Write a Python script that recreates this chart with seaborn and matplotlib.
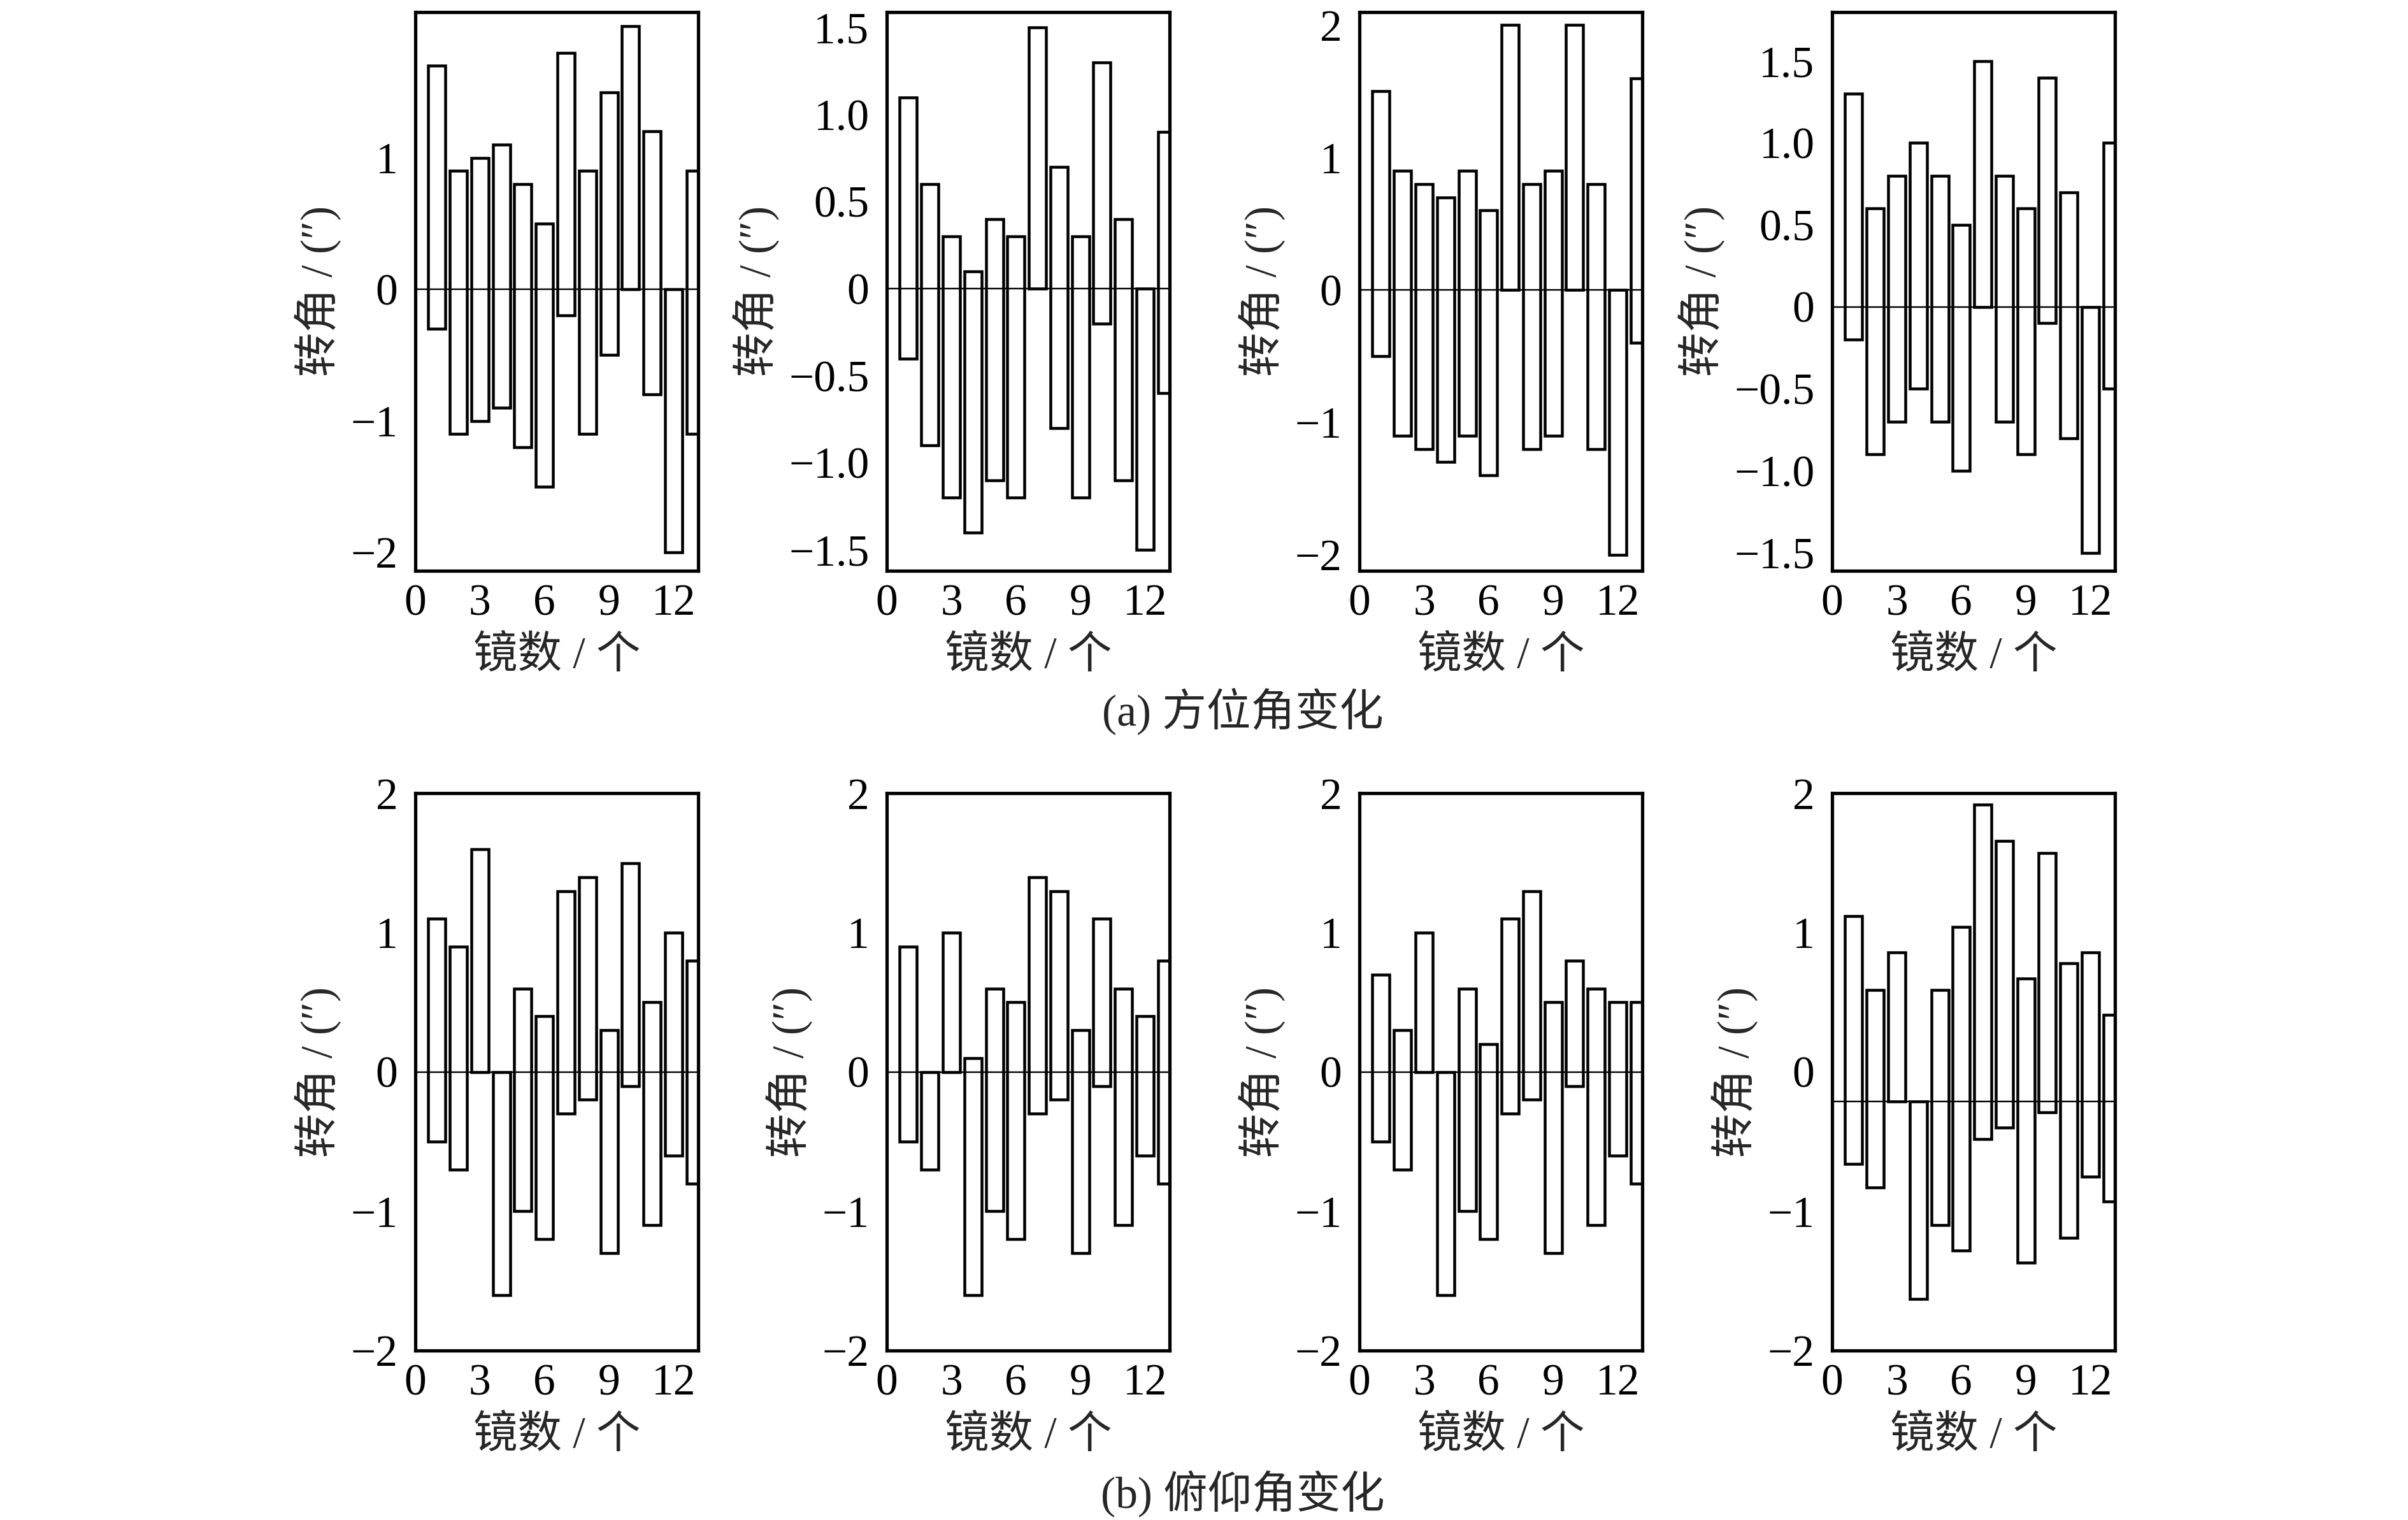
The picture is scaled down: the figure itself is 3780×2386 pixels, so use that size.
import numpy as np
import pandas as pd
import seaborn as sns
import matplotlib.pyplot as plt

mirrors = list(range(1, 14))

# (a) 方位角变化: top and bottom end of every bar
az1_hi = [1.7, 0.9, 1.0, 1.1, 0.8, 0.5, 1.8, 0.9, 1.5, 2.0, 1.2, 0.0, 0.9]
az1_lo = [-0.3, -1.1, -1.0, -0.9, -1.2, -1.5, -0.2, -1.1, -0.5, 0.0, -0.8, -2.0, -1.1]
az2_hi = [1.1, 0.6, 0.3, 0.1, 0.4, 0.3, 1.5, 0.7, 0.3, 1.3, 0.4, 0.0, 0.9]
az2_lo = [-0.4, -0.9, -1.2, -1.4, -1.1, -1.2, 0.0, -0.8, -1.2, -0.2, -1.1, -1.5, -0.6]
az3_hi = [1.5, 0.9, 0.8, 0.7, 0.9, 0.6, 2.0, 0.8, 0.9, 2.0, 0.8, 0.0, 1.6]
az3_lo = [-0.5, -1.1, -1.2, -1.3, -1.1, -1.4, 0.0, -1.2, -1.1, 0.0, -1.2, -2.0, -0.4]
az4_hi = [1.3, 0.6, 0.8, 1.0, 0.8, 0.5, 1.5, 0.8, 0.6, 1.4, 0.7, 0.0, 1.0]
az4_lo = [-0.2, -0.9, -0.7, -0.5, -0.7, -1.0, 0.0, -0.7, -0.9, -0.1, -0.8, -1.5, -0.5]

# (b) 俯仰角变化
el1_hi = [1.1, 0.9, 1.6, 0.0, 0.6, 0.4, 1.3, 1.4, 0.3, 1.5, 0.5, 1.0, 0.8]
el1_lo = [-0.5, -0.7, 0.0, -1.6, -1.0, -1.2, -0.3, -0.2, -1.3, -0.1, -1.1, -0.6, -0.8]
el2_hi = [0.9, 0.0, 1.0, 0.1, 0.6, 0.5, 1.4, 1.3, 0.3, 1.1, 0.6, 0.4, 0.8]
el2_lo = [-0.5, -0.7, 0.0, -1.6, -1.0, -1.2, -0.3, -0.2, -1.3, -0.1, -1.1, -0.6, -0.8]
el3_hi = [0.7, 0.3, 1.0, 0.0, 0.6, 0.2, 1.1, 1.3, 0.5, 0.8, 0.6, 0.5, 0.5]
el3_lo = [-0.5, -0.7, 0.0, -1.6, -1.0, -1.2, -0.3, -0.2, -1.3, -0.1, -1.1, -0.6, -0.8]
# last panel sits on a shifted base line in the source figure
el4_base = -0.21
el4_hi = [1.12, 0.59, 0.86, -0.21, 0.59, 1.04, 1.92, 1.66, 0.67, 1.57, 0.78, 0.86, 0.41]
el4_lo = [-0.66, -0.83, -0.21, -1.63, -1.10, -1.28, -0.48, -0.40, -1.37, -0.29, -1.19, -0.75, -0.93]

x_ticks = [0, 3, 6, 9, 12]
xlabel = '镜数 / 个'
ylabel = '转角 / (″)'

sns.set_style('white')
plt.rcParams['font.family'] = ['Liberation Serif', 'Noto Sans CJK SC']
plt.rcParams['font.size'] = 20
plt.rcParams['axes.unicode_minus'] = True

fig = plt.figure(figsize=(15.12, 9.544), dpi=250)

lefts = [0.1725, 0.3683, 0.5646, 0.7609]
w = 0.1175
top_row = (0.6245, 0.3677)
bot_row = (0.1115, 0.3665)


def panel(ax, hi, lo, base, ylim, yticks, ylabs, minor=None):
    df = pd.DataFrame({'mirror': mirrors, 'hi': hi, 'lo': lo})
    df['span'] = df['hi'] - df['lo']
    sns.barplot(data=df, x='mirror', y='span', native_scale=True,
                bottom=df['lo'].to_numpy(), fill=False, color='black',
                linewidth=1.3, width=0.8, errorbar=None, ax=ax)
    ax.axhline(base, color='black', lw=0.7, zorder=3)
    ax.set_xlim(0, 13.15)
    ax.set_ylim(*ylim)
    ax.set_xticks(x_ticks)
    ax.set_xticklabels([str(t) for t in x_ticks])
    ax.set_yticks(yticks)
    ax.set_yticklabels(ylabs)
    ax.set_xlabel(xlabel, labelpad=5)
    ax.set_ylabel(ylabel, labelpad=4)
    for s in ax.spines.values():
        s.set_linewidth(1.5)
        s.set_color('black')
    ax.tick_params(direction='in', length=5, width=1.4, top=False, right=False,
                   colors='black', pad=6)
    ax.tick_params(axis='y', pad=8)
    if minor is not None:
        ax.tick_params(axis='y', which='major', length=0)
        ax.set_yticks(minor, minor=True)
        ax.tick_params(axis='y', which='minor', direction='in', length=5, width=1.4)


ticks_int = [-2, -1, 0, 1]
ticks_int2 = [-2, -1, 0, 1, 2]
ticks_half = [-1.5, -1.0, -0.5, 0, 0.5, 1.0, 1.5]
labs_int = ['\u22122', '\u22121', '0', '1']
labs_int2 = ['\u22122', '\u22121', '0', '1', '2']
labs_half = ['\u22121.5', '\u22121.0', '\u22120.5', '0', '0.5', '1.0', '1.5']

top_sets = [
    (az1_hi, az1_lo, (-2.14, 2.11), ticks_int, labs_int),
    (az2_hi, az2_lo, (-1.62, 1.59), ticks_half, labs_half),
    (az3_hi, az3_lo, (-2.12, 2.10), ticks_int2, labs_int2),
    (az4_hi, az4_lo, (-1.61, 1.80), ticks_half, labs_half),
]
for i, (hi, lo, yl, yt, ylab) in enumerate(top_sets):
    ax = fig.add_axes([lefts[i], top_row[0], w, top_row[1]])
    panel(ax, hi, lo, 0, yl, yt, ylab)

bot_sets = [
    (el1_hi, el1_lo, 0, [1]),
    (el2_hi, el2_lo, 0, [1]),
    (el3_hi, el3_lo, 0, [1]),
    (el4_hi, el4_lo, el4_base, [1.57]),
]
for i, (hi, lo, base, mt) in enumerate(bot_sets):
    ax = fig.add_axes([lefts[i], bot_row[0], w, bot_row[1]])
    panel(ax, hi, lo, base, (-2, 2), ticks_int2, labs_int2, minor=mt)

fig.text(0.516, 0.532, '(a) 方位角变化', ha='center', va='center')
fig.text(0.516, 0.017, '(b) 俯仰角变化', ha='center', va='center')

fig.savefig('out.png', dpi=250, facecolor='white')
